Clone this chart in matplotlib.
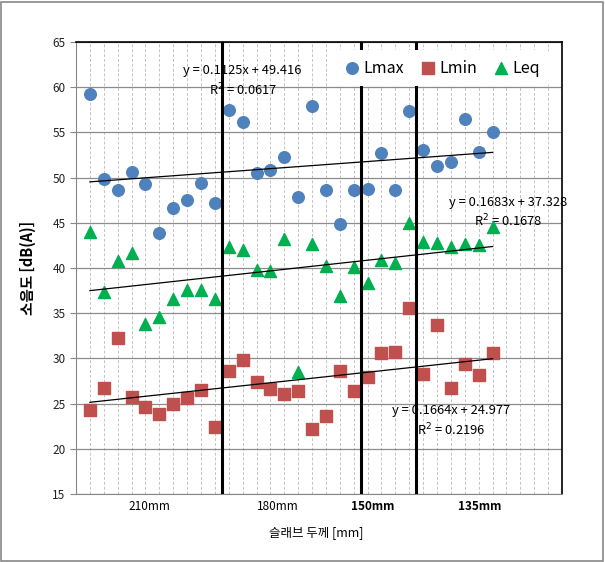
import matplotlib.pyplot as plt
import numpy as np
from matplotlib.patches import Rectangle
from matplotlib.transforms import blended_transform_factory

plt.rcParams['font.family'] = ['Noto Sans CJK KR', 'DejaVu Sans']

# 측정 번호 1..30
idx = np.arange(1, 31)

lmax = [59.2, 49.8, 48.6, 50.6, 49.3, 43.9, 46.6, 47.5, 49.4, 47.2,
        57.5, 56.2, 50.5, 50.8, 52.3, 47.9, 57.9, 48.6, 44.9, 48.6,
        48.7, 52.7, 48.6, 57.4, 53.0, 51.3, 51.7, 56.5, 52.8, 55.0]
lmin = [24.3, 26.7, 32.3, 25.7, 24.6, 23.8, 25.0, 25.6, 26.5, 22.4,
        28.6, 29.8, 27.4, 26.6, 26.1, 26.4, 22.2, 23.6, 28.6, 26.4,
        27.9, 30.6, 30.7, 35.6, 28.3, 33.7, 26.7, 29.4, 28.2, 30.6]
leq = [44.0, 37.3, 40.8, 41.7, 33.8, 34.6, 36.6, 37.6, 37.6, 36.6,
       42.3, 42.0, 39.8, 39.7, 43.2, 28.5, 42.6, 40.2, 36.9, 40.1,
       38.3, 40.9, 40.5, 45.0, 42.9, 42.8, 42.3, 42.7, 42.5, 44.5]

# 추세선 (slope, intercept, r2)
trend_max = (0.1125, 49.416, 0.0617)
trend_eq = (0.1683, 37.328, 0.1678)
trend_min = (0.1664, 24.977, 0.2196)

group_labels = ['210mm', '180mm', '150mm', '135mm']
group_pos = [5.3, 14.5, 21.4, 29.1]
dividers = [10.5, 20.5, 24.5]

fig = plt.figure(figsize=(6.05, 5.62), dpi=100)
ax = fig.add_axes([76/605, 1-494/562, (562-76)/605, (494-42)/562])

ax.set_xlim(0, 35)
ax.set_ylim(15, 65)
ax.set_yticks(np.arange(15, 66, 5))
ax.set_xticks([])
ax.set_xticks(np.arange(1, 35), minor=True)
ax.tick_params(axis='x', which='both', length=0, labelbottom=False)
ax.tick_params(axis='y', length=4, color='#888888', labelsize=8.5, labelcolor='#222222')
ax.grid(axis='y', which='major', color='#8c8c8c', lw=0.9)
ax.grid(axis='x', which='minor', color='#c4c4c4', lw=0.7, ls=(0, (3, 2)))
ax.set_axisbelow(True)
for s in ['left', 'bottom']:
    ax.spines[s].set_color('#888888')
for s in ['top', 'right']:
    ax.spines[s].set_color('black')
    ax.spines[s].set_linewidth(1.2)

ax.scatter(idx, lmax, s=70, marker='o', color='#4F81BD', label='Lmax', zorder=3)
ax.scatter(idx, lmin, s=70, marker='s', color='#C0504D', label='Lmin', zorder=3)
ax.scatter(idx, leq, s=75, marker='^', color='#00B050', label='Leq', zorder=3)

for (m, b, r2), tx, ty1 in [(trend_max, 12.0, 61.8), (trend_eq, 31.1, 47.3), (trend_min, 27.0, 24.2)]:
    ax.plot([1, 30], [m*1+b, m*30+b], color='black', lw=0.9, zorder=4)
    ax.text(tx, ty1, f'y = {m:.4f}x + {b:.3f}', ha='center', va='center', fontsize=9.3, zorder=2)
    ax.text(tx, ty1-2.1, f'R$^2$ = {r2:.4f}', ha='center', va='center', fontsize=9.3, zorder=2)

for d in dividers:
    ax.axvline(d, color='black', lw=2.2, zorder=5)

trans = blended_transform_factory(ax.transData, ax.transAxes)
for lab, p in zip(group_labels, group_pos):
    w = 'bold' if lab in ('150mm', '135mm') else 'normal'
    ax.text(p, -0.027, lab, transform=trans, ha='center', va='center', fontsize=8.5, fontweight=w)

leg = ax.legend(loc='upper right', bbox_to_anchor=(0.99, 1.0), ncol=3, frameon=True,
                fontsize=11.5, handlelength=0.8, handletextpad=0.3, columnspacing=1.1,
                borderpad=0.6, markerscale=1.0)
leg.get_frame().set_edgecolor('none')
leg.get_frame().set_facecolor('white')
leg.get_frame().set_alpha(1)
leg.set_zorder(6)

ax.set_ylabel('소음도 [dB(A)]', fontsize=10.5, fontweight='bold', labelpad=12)
fig.text(316/605, 1-533/562, '슬래브 두께 [mm]', ha='center', va='center', fontsize=9)

fig.patches.append(Rectangle((0.002, 0.002), 0.994, 0.994, transform=fig.transFigure,
                             fill=False, edgecolor='#888888', lw=1.2))

fig.savefig('out.png', dpi=100)
